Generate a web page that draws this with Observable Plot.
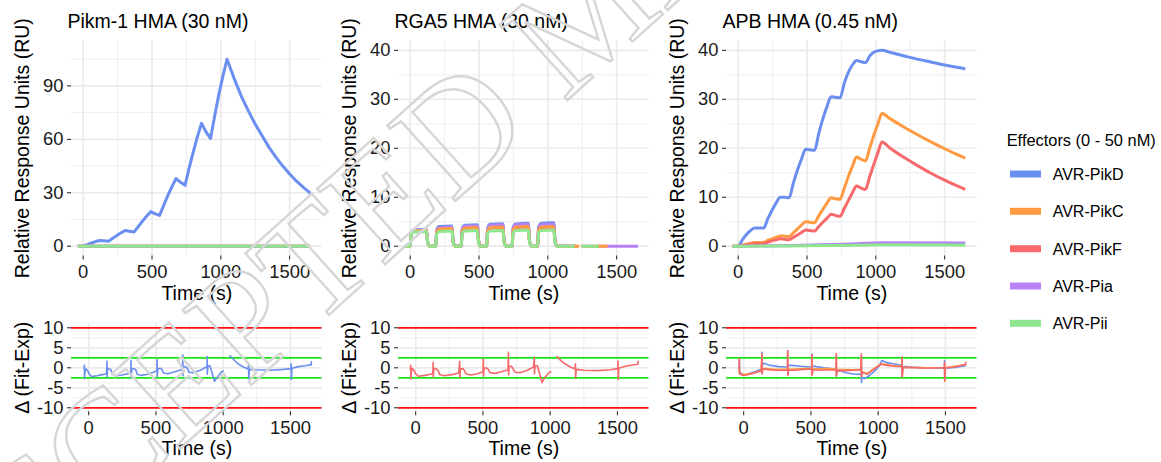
<!DOCTYPE html>
<html><head><meta charset="utf-8">
<script src="https://cdn.jsdelivr.net/npm/d3@7"></script>
<script src="https://cdn.jsdelivr.net/npm/@observablehq/plot@0.6"></script>
<style>
html,body{margin:0;padding:0;background:#fff;}
#root{position:relative;width:1161px;height:462px;overflow:hidden;font-family:"Liberation Sans",Arial,Helvetica,sans-serif;}
#root svg{position:absolute;}
</style></head><body><div id="root"></div>
<script>
// ---------- categories / labels ----------
const effectors = ["AVR-PikD", "AVR-PikC", "AVR-PikF", "AVR-Pia", "AVR-Pii"];
const effectorColors = ["#6B8FF0", "#FF9A40", "#F8696B", "#B682F5", "#8EE68E"];
const panelTitles = ["Pikm-1 HMA (30 nM)", "RGA5 HMA (30 nM)", "APB HMA (0.45 nM)"];
const legendTitle = "Effectors (0 - 50 nM)";
const xTicks = [0, 500, 1000, 1500];
const xMinor = [250, 750, 1250];
const pikmYTicks = [0, 30, 60, 90];
const pikmYMinor = [15, 45, 75, 105];
const ruYTicks = [0, 10, 20, 30, 40];
const ruYMinor = [5, 15, 25, 35];
const resYTicks = [-10, -5, 0, 5, 10];
const resYMinor = [-7.5, -2.5, 2.5, 7.5];
const resLimits = [-10, 10];
const resBand = [-2.5, 2.5];

// ---------- Pikm-1 HMA sensorgram ----------
const pikmT = [-40, 0, 30, 60, 90, 120, 150, 185, 215, 245, 275, 305, 335, 370, 400, 430, 460, 490, 520, 555, 585, 615, 645, 675, 705, 740, 770, 800, 830, 860, 890, 925, 955, 985, 1015, 1045, 1100, 1150, 1200, 1250, 1300, 1350, 1400, 1450, 1500, 1550, 1600, 1650];
const pikmPikD = [0, 0, 0.9, 1.8, 2.6, 3.2, 3.0, 2.8, 4.5, 6.0, 7.5, 8.8, 8.4, 8.0, 11.0, 14.0, 16.8, 19.4, 18.3, 17.3, 23.0, 28.5, 33.5, 38.0, 36.0, 34.2, 44.0, 53.0, 61.5, 69.0, 64.5, 60.5, 73.0, 85.0, 95.5, 105.0, 93.5, 84.0, 76.0, 68.5, 62.0, 55.5, 50.0, 45.0, 40.5, 36.5, 33.0, 29.8];
const pikmFlatT = [-38, 1648];
const pikmPikC = [0, 0];
const pikmPikF = [0, 0];
const pikmPia = [0, 0];
const pikmPii = [0, 0];

// ---------- RGA5 HMA sensorgram ----------
const rgaT = [-40, 0, 8, 25, 118, 127, 142, 185, 193, 210, 303, 312, 327, 370, 378, 395, 488, 497, 512, 555, 563, 580, 673, 682, 697, 740, 748, 765, 858, 867, 882, 925, 933, 950, 1043, 1052, 1067, 1190];
const rgaPikD = [0, 0,2.7,3.3,3.4,0.85,0, 0,3.3,4.0,4.1,1.0,0, 0,3.5,4.27,4.4,1.1,0, 0,3.7,4.46,4.6,1.15,0, 0,3.76,4.56,4.7,1.18,0, 0,3.84,4.66,4.8,1.2,0, 0];
const rgaPikC = [0, 0,2.56,3.1,3.2,0.8,0, 0,2.88,3.49,3.6,0.9,0, 0,3.04,3.69,3.8,0.95,0, 0,3.12,3.78,3.9,0.98,0, 0,3.2,3.88,4.0,1.0,0, 0,3.2,3.88,4.0,1.0,0, 0];
const rgaPikF = [0, 0,2.48,3.0,3.1,0.78,0, 0,2.8,3.4,3.5,0.88,0, 0,2.96,3.59,3.7,0.93,0, 0,3.04,3.69,3.8,0.95,0, 0,3.12,3.78,3.9,0.98,0, 0,3.12,3.78,3.9,0.98,0, 0];
const rgaPia = [0, 0,2.64,3.2,3.3,0.83,0, 0,3.12,3.78,3.9,0.98,0, 0,3.36,4.07,4.2,1.05,0, 0,3.52,4.27,4.4,1.1,0, 0,3.6,4.37,4.5,1.13,0, 0,3.6,4.37,4.5,1.13,0, 0];
const rgaPii = [0, 0,2.4,2.91,3.0,0.75,0, 0,2.48,3.0,3.1,0.78,0, 0,2.56,3.1,3.2,0.8,0, 0,2.56,3.1,3.2,0.8,0, 0,2.64,3.2,3.3,0.83,0, 0,2.64,3.2,3.3,0.83,0, 0];
// baseline tails after the last injection [time, RU]; NaN = gap in the record
const rgaTailPikD = [[1212, 0]];
const rgaTailPikF = [[1205, 0]];
const rgaTailPia = [[1200, 0], [1236, NaN], [1245, 0], [1655, 0]];
const rgaTailPikC = [[1228, 0], [1236, NaN], [1245, 0], [1435, 0]];
const rgaTailPii = [[1195, 0], [1220, NaN], [1245, 0], [1370, 0]];

// ---------- APB HMA sensorgram ----------
const apbT = [-40, 0, 30, 60, 90, 120, 150, 185, 215, 245, 275, 305, 335, 370, 400, 430, 460, 490, 520, 555, 585, 615, 645, 675, 705, 740, 770, 800, 830, 860, 890, 925, 955, 985, 1015, 1045, 1100, 1200, 1300, 1400, 1500, 1600, 1650];
const apbPikD = [0, 0, 1.3, 2.4, 3.2, 3.7, 3.7, 3.7, 5.6, 7.3, 8.8, 10.0, 10.0, 9.9, 12.8, 15.5, 17.8, 19.8, 19.7, 19.6, 23.0, 26.0, 28.5, 30.5, 30.4, 30.3, 33.2, 35.5, 37.0, 37.9, 37.7, 37.5, 38.8, 39.6, 39.9, 40.0, 39.6, 38.9, 38.2, 37.6, 37.0, 36.5, 36.2];
const apbPikC = [0, 0, 0.2, 0.4, 0.6, 0.75, 0.75, 0.8, 1.2, 1.5, 1.8, 2.1, 2.05, 2.0, 2.7, 3.5, 4.3, 5.0, 4.9, 4.8, 6.2, 7.5, 8.8, 9.9, 9.7, 9.6, 11.8, 14.2, 16.3, 18.2, 17.8, 17.4, 20.0, 22.6, 25.0, 27.1, 26.1, 24.4, 22.8, 21.3, 19.9, 18.6, 18.0];
const apbPikF = [0, 0, 0.15, 0.3, 0.4, 0.5, 0.5, 0.5, 0.8, 1.1, 1.3, 1.5, 1.4, 1.3, 1.8, 2.3, 2.8, 3.3, 3.2, 3.1, 4.0, 4.9, 5.7, 6.5, 6.3, 6.1, 7.7, 9.3, 10.9, 12.3, 11.9, 11.6, 14.2, 16.7, 19.1, 21.3, 20.1, 18.2, 16.5, 14.9, 13.5, 12.2, 11.6];
const apbSlowT = [-40, 0, 120, 305, 490, 675, 860, 1045, 1650];
const apbPia = [0, 0, 0.05, 0.1, 0.2, 0.35, 0.5, 0.7, 0.65];
const apbPii = [0, 0, 0.02, 0.05, 0.08, 0.12, 0.2, 0.3, 0.25];

// ---------- residuals (Fit - Exp) [time, delta] ----------
const resPikmPikD = [[-35,-0.2],[-32,0.6],[-31,-2.7],[-28,-1.0],[-22,-0.3],[-10,-0.6],[5,-1.6],[20,-2.2],[60,-2.0],[100,-1.7],[132,-1.5],[136,1.6],[137,-2.3],[140,-0.3],[150,-0.2],[165,-0.5],[175,-1.6],[200,-2.0],[250,-1.8],[300,-1.4],[313,-1.3],[315,1.8],[316,-2.4],[320,-0.4],[335,-0.2],[350,-0.5],[360,-1.6],[390,-1.9],[440,-1.6],[490,-1.0],[507,-0.8],[509,2.0],[510,-2.2],[514,-0.3],[530,-0.1],[545,-0.4],[555,-1.3],[590,-1.5],[640,-1.0],[690,-0.5],[698,-0.3],[700,3.2],[701,-2.0],[705,0.2],[720,0.3],[735,-0.2],[745,-1.1],[780,-1.2],[830,-0.6],[875,0.2],[880,0.5],[881,2.8],[882,-1.6],[886,0.4],[900,0.6],[915,-1.0],[935,-3.4],[955,-2.4],[985,-1.1],[1000,-0.8],[1020,NaN],[1050,3.0],[1080,2.0],[1110,1.0],[1150,0.2],[1186,-0.3],[1189,1.0],[1190,-2.7],[1195,-0.4],[1250,-0.5],[1350,-0.6],[1450,-0.4],[1503,-0.2],[1506,1.0],[1507,-2.9],[1512,-0.1],[1560,0.3],[1610,0.5],[1655,0.8],[1656,1.5]];
const resRgaPikF = [[-40,-0.4],[-37,0.6],[-36,-2.8],[-32,-1.0],[-26,-0.2],[-15,-0.5],[0,-1.5],[20,-2.1],[70,-1.9],[110,-1.6],[127,-1.4],[130,1.4],[131,-2.3],[134,-0.3],[150,-0.2],[165,-0.6],[178,-1.7],[210,-2.0],[270,-1.7],[320,-1.3],[327,1.6],[328,-2.4],[332,-0.3],[350,-0.2],[362,-0.6],[372,-1.5],[410,-1.8],[460,-1.5],[500,-1.0],[503,2.2],[504,-2.1],[508,-0.2],[525,0.0],[540,-0.4],[552,-1.2],[590,-1.4],[640,-1.0],[686,-0.5],[690,3.9],[691,-1.8],[695,0.3],[712,0.4],[725,-0.3],[738,-1.1],[780,-1.2],[830,-0.6],[876,0.2],[882,2.6],[883,-1.5],[888,0.5],[905,0.5],[920,-1.3],[939,-3.7],[955,-2.7],[985,-1.4],[1005,-1.0],[1025,NaN],[1051,2.8],[1080,1.8],[1110,1.0],[1150,0.2],[1185,-0.3],[1188,1.0],[1189,-2.6],[1194,-0.4],[1250,-0.6],[1350,-0.7],[1450,-0.5],[1502,-0.2],[1505,1.7],[1506,-2.9],[1510,-0.1],[1560,0.4],[1610,0.7],[1652,0.9],[1654,1.6]];
const resApbPikD = [[-34,-0.5],[-32,2.0],[-31,-1.3],[-25,-1.2],[-10,-1.6],[10,-1.8],[40,-1.4],[80,-1.0],[120,-0.5],[134,-0.2],[136,3.9],[137,-1.5],[140,1.2],[160,1.0],[200,0.6],[260,0.3],[310,0.2],[326,0.2],[327,4.2],[328,-1.6],[332,0.6],[360,0.6],[420,0.4],[490,0.2],[506,0.2],[508,3.4],[509,-1.6],[512,0.5],[540,0.3],[600,0.0],[650,-0.2],[686,-0.3],[688,3.0],[689,-2.0],[693,-0.7],[720,-0.8],[770,-1.3],[830,-1.6],[870,-1.6],[874,-1.2],[875,3.0],[876,-3.7],[880,-2.4],[900,-2.7],[940,-1.8],[980,-0.6],[1010,0.6],[1027,1.8],[1060,1.3],[1110,1.0],[1170,0.6],[1177,0.6],[1178,2.3],[1179,-2.3],[1183,0.4],[1250,0.2],[1350,0.0],[1450,-0.1],[1493,-0.1],[1494,1.8],[1495,-2.9],[1500,-0.1],[1570,0.1],[1650,0.5]];
const resApbPikC = [[-34,0.0],[-31,-1.4],[0,-1.7],[60,-1.4],[130,-0.7],[136,3.0],[137,-1.3],[141,-0.1],[230,-0.4],[326,-0.4],[327,3.6],[328,-1.7],[333,-0.4],[506,-0.1],[508,2.8],[509,-1.6],[513,-0.3],[620,-0.2],[688,-0.3],[689,3.1],[690,-1.8],[694,-0.4],[820,-0.5],[872,-0.4],[875,2.9],[876,-2.0],[882,-1.0],[920,-1.4],[960,-0.4],[1000,0.5],[1027,1.0],[1120,0.5],[1177,0.4],[1178,2.2],[1179,-2.0],[1184,0.2],[1360,0.0],[1493,0.0],[1494,1.0],[1495,-3.4],[1500,0.0],[1650,0.8]];
const resApbPikF = [[-34,0.2],[-32,2.3],[-31,-1.5],[-25,-1.6],[-5,-1.9],[20,-1.8],[60,-1.5],[100,-1.1],[130,-0.8],[136,3.5],[137,-1.5],[141,-0.2],[170,-0.4],[230,-0.6],[300,-0.6],[326,-0.6],[327,4.3],[328,-1.9],[333,-0.6],[380,-0.6],[440,-0.4],[506,-0.3],[508,3.3],[509,-1.9],[513,-0.5],[560,-0.6],[620,-0.5],[688,-0.6],[689,3.6],[690,-2.1],[694,-0.7],[760,-0.7],[820,-0.6],[872,-0.5],[875,3.5],[876,-2.3],[882,-1.2],[920,-1.6],[960,-0.6],[1000,0.4],[1027,0.9],[1060,0.6],[1120,0.4],[1177,0.3],[1178,2.7],[1179,-2.3],[1184,0.1],[1260,0.0],[1360,-0.1],[1450,0.0],[1493,0.0],[1494,1.4],[1495,-3.2],[1500,0.0],[1570,0.2],[1650,0.9],[1652,1.4]];

// ---------- helpers ----------
const FONT = '"Liberation Sans", Arial, Helvetica, sans-serif';
const ink = "#1a1a1a";
const rowsOf = (e, T, V) => T.map((t, i) => ({t, v: V[i], e}));
const rowsOfPairs = (e, P) => P.map(([t, v]) => ({t, v, e}));
const root = document.getElementById("root");
const panelLefts = [70.5, 398, 726];
const ML = 70, MR = 6.5, W = 327;

function place(svg, left, top) {
  svg.style.left = left + "px";
  svg.style.top = top + "px";
  svg.style.background = "transparent";
  svg.style.overflow = "visible";
  root.appendChild(svg);
}

function grid(ys, ym) {
  return [
    Plot.gridX(xMinor, {stroke: "#ececec", strokeOpacity: 1, strokeWidth: 0.9}),
    Plot.gridY(ym, {stroke: "#ececec", strokeOpacity: 1, strokeWidth: 0.9}),
    Plot.gridX(xTicks, {stroke: "#ebebeb", strokeOpacity: 1, strokeWidth: 1.7}),
    Plot.gridY(ys, {stroke: "#ebebeb", strokeOpacity: 1, strokeWidth: 1.7})
  ];
}
function axes(ys) {
  return [
    Plot.axisX(xTicks, {tickSize: 4, tickPadding: 5, fontSize: 18.4, label: null, color: ink, tickFormat: d => String(d)}),
    Plot.axisY(ys, {tickSize: 4, tickPadding: 4, fontSize: 18.4, label: null, color: ink, tickFormat: d => String(d)})
  ];
}
function yTitle(label) {
  return Plot.text([label], {text: d => d, frameAnchor: "left", textAnchor: "middle", lineAnchor: "middle", rotate: -90, dx: -49, fontSize: 19.5, fill: "#000"});
}

function topPanel(i, rows, yDomain, yTicks, yMinor, curve) {
  const svg = Plot.plot({
    width: W, height: 305, marginLeft: ML, marginRight: MR, marginTop: 40, marginBottom: 49.5,
    style: {fontFamily: FONT, background: "transparent", overflow: "visible"},
    x: {domain: [-85, 1735]},
    y: {domain: yDomain},
    color: {domain: effectors, range: effectorColors},
    marks: [
      ...grid(yTicks, yMinor),
      ...axes(yTicks),
      Plot.line(rows, {x: "t", y: "v", z: "e", stroke: "e", strokeWidth: 3, curve, strokeLinejoin: "round", strokeLinecap: "butt"}),
      Plot.text([panelTitles[i]], {text: d => d, frameAnchor: "top-left", textAnchor: "start", lineAnchor: "bottom", dx: -4, dy: -13, fontSize: 19.5, fill: "#000"}),
      Plot.text(["Time (s)"], {text: d => d, frameAnchor: "bottom", textAnchor: "middle", lineAnchor: "bottom", dy: 43.5, fontSize: 19.5, fill: "#000"}),
      yTitle("Relative Response Units (RU)")
    ]
  });
  place(svg, panelLefts[i] - ML, 0);
}

function bottomPanel(i, rows) {
  const svg = Plot.plot({
    width: W, height: 157, marginLeft: ML, marginRight: MR, marginTop: 18.3, marginBottom: 50.7,
    style: {fontFamily: FONT, background: "transparent", overflow: "visible"},
    x: {domain: [-128, 1735]},
    y: {domain: [-11, 11]},
    color: {domain: effectors, range: effectorColors},
    marks: [
      ...grid(resYTicks, resYMinor),
      ...axes(resYTicks),
      Plot.ruleY(resLimits, {stroke: "#ff1010", strokeWidth: 1.7}),
      Plot.ruleY(resBand, {stroke: "#19e619", strokeWidth: 1.7}),
      Plot.line(rows, {x: "t", y: "v", z: "e", stroke: "e", strokeWidth: 1.6, strokeLinejoin: "round"}),
      Plot.text(["Time (s)"], {text: d => d, frameAnchor: "bottom", textAnchor: "middle", lineAnchor: "bottom", dy: 42.7, fontSize: 19.5, fill: "#000"}),
      yTitle("\u0394 (Fit-Exp)")
    ]
  });
  place(svg, panelLefts[i] - ML, 305);
}

// ---------- top row ----------
topPanel(0, [
  ...rowsOf("AVR-PikD", pikmT, pikmPikD),
  ...rowsOf("AVR-PikC", pikmFlatT, pikmPikC),
  ...rowsOf("AVR-PikF", pikmFlatT, pikmPikF),
  ...rowsOf("AVR-Pia", pikmFlatT, pikmPia),
  ...rowsOf("AVR-Pii", pikmFlatT, pikmPii)
], [-5.5, 115.5], pikmYTicks, pikmYMinor, "linear");

topPanel(1, [
  ...rowsOf("AVR-PikD", rgaT, rgaPikD), ...rowsOfPairs("AVR-PikD", rgaTailPikD),
  ...rowsOf("AVR-PikF", rgaT, rgaPikF), ...rowsOfPairs("AVR-PikF", rgaTailPikF),
  ...rowsOf("AVR-Pia", rgaT, rgaPia), ...rowsOfPairs("AVR-Pia", rgaTailPia),
  ...rowsOf("AVR-PikC", rgaT, rgaPikC), ...rowsOfPairs("AVR-PikC", rgaTailPikC),
  ...rowsOf("AVR-Pii", rgaT, rgaPii), ...rowsOfPairs("AVR-Pii", rgaTailPii)
], [-2, 42], ruYTicks, ruYMinor, "monotone-x");

topPanel(2, [
  ...rowsOf("AVR-PikD", apbT, apbPikD),
  ...rowsOf("AVR-PikC", apbT, apbPikC),
  ...rowsOf("AVR-PikF", apbT, apbPikF),
  ...rowsOf("AVR-Pia", apbSlowT, apbPia),
  ...rowsOf("AVR-Pii", apbSlowT, apbPii)
], [-2, 42], ruYTicks, ruYMinor, "monotone-x");

// ---------- bottom row ----------
bottomPanel(0, rowsOfPairs("AVR-PikD", resPikmPikD));
bottomPanel(1, rowsOfPairs("AVR-PikF", resRgaPikF));
bottomPanel(2, [
  ...rowsOfPairs("AVR-PikD", resApbPikD),
  ...rowsOfPairs("AVR-PikC", resApbPikC),
  ...rowsOfPairs("AVR-PikF", resApbPikF)
]);

// ---------- legend + watermark overlay ----------
const ov = d3.select(root).append("svg")
  .attr("width", 1161).attr("height", 462)
  .style("left", "0px").style("top", "0px").style("pointer-events", "none")
  .style("font-family", FONT);
ov.append("text").attr("x", 1006.7).attr("y", 146).attr("font-size", 16.4).attr("fill", "#000").text(legendTitle);
const rowY = [174, 211.3, 248.7, 286, 323.3];
effectors.forEach((e, k) => {
  ov.append("line").attr("x1", 1010).attr("x2", 1041).attr("y1", rowY[k]).attr("y2", rowY[k])
    .attr("stroke", effectorColors[k]).attr("stroke-width", 7);
  ov.append("text").attr("x", 1052.7).attr("y", rowY[k] + 5.8).attr("font-size", 16).attr("fill", "#000").text(e);
});
ov.append("text")
  .attr("x", -60).attr("y", 665)
  .attr("transform", "rotate(-42 -60 665)")
  .attr("font-family", '"Liberation Serif", "DejaVu Serif", serif')
  .attr("font-size", 155)
  .attr("fill", "none").attr("stroke", "#d6d6d6").attr("stroke-width", 2.4)
  .text("ACCEPTED MANUSCRIPT");
</script></body></html>
